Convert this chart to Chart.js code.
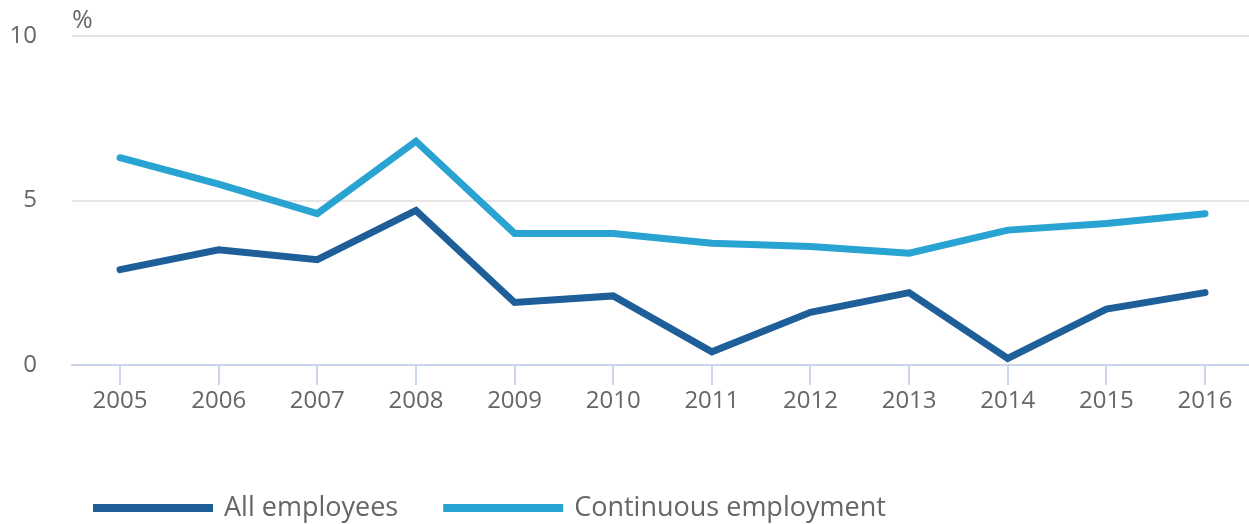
<!DOCTYPE html>
<html>
<head>
<meta charset="utf-8">
<script src="https://cdn.jsdelivr.net/npm/chart.js@4.4.1/dist/chart.umd.min.js"></script>
<style>
  html, body { margin: 0; padding: 0; background: #fff; }
  #wrap { width: 1249px; height: 524px; position: relative; }
</style>
</head>
<body>
<div id="wrap"><canvas id="chart"></canvas></div>
<script>
const years = [2005, 2006, 2007, 2008, 2009, 2010, 2011, 2012, 2013, 2014, 2015, 2016];
const allEmployees = [2.9, 3.5, 3.2, 4.7, 1.9, 2.1, 0.4, 1.6, 2.2, 0.2, 1.7, 2.2];
const continuousEmployment = [6.3, 5.5, 4.6, 6.8, 4.0, 4.0, 3.7, 3.6, 3.4, 4.1, 4.3, 4.6];
const yTicks = [0, 5, 10];
const seriesNames = ['All employees', 'Continuous employment'];
const seriesColors = ['#1f5f99', '#29a3d1'];

const FONT = "'Open Sans', sans-serif";
const TEXT = '#666666';

function toPoints(values) {
  return years.map((y, i) => ({ x: y, y: values[i] }));
}

// unit label above the value axis
const unitLabel = {
  id: 'unitLabel',
  afterDraw(chart) {
    const ctx = chart.ctx;
    ctx.save();
    ctx.font = '25px ' + FONT;
    ctx.fillStyle = TEXT;
    ctx.textAlign = 'left';
    ctx.textBaseline = 'alphabetic';
    ctx.fillText('%', chart.chartArea.left, chart.chartArea.top - 8);
    ctx.restore();
  }
};

// legend along the bottom, long line swatches
const lineLegend = {
  id: 'lineLegend',
  afterDraw(chart) {
    const ctx = chart.ctx;
    let x = 93;
    const y = 508;
    ctx.save();
    ctx.font = '27px ' + FONT;
    ctx.textBaseline = 'middle';
    chart.data.datasets.forEach(ds => {
      ctx.fillStyle = ds.borderColor;
      ctx.fillRect(x, y - 4, 120, 8);
      x += 120 + 11;
      ctx.fillStyle = TEXT;
      ctx.fillText(ds.label, x, y);
      x += ctx.measureText(ds.label).width + 45;
    });
    ctx.restore();
  }
};

new Chart(document.getElementById('chart'), {
  type: 'line',
  data: {
    datasets: [
      { label: seriesNames[0], data: toPoints(allEmployees), borderColor: seriesColors[0] },
      { label: seriesNames[1], data: toPoints(continuousEmployment), borderColor: seriesColors[1] }
    ]
  },
  options: {
    responsive: true,
    maintainAspectRatio: false,
    animation: false,
    layout: { padding: { top: 36, right: 0, bottom: 0, left: 0 } },
    elements: {
      point: { radius: 0 },
      line: { borderWidth: 7, borderCapStyle: 'round', borderJoinStyle: 'miter', tension: 0 }
    },
    plugins: {
      legend: { display: false },
      tooltip: { enabled: false }
    },
    scales: {
      x: {
        type: 'linear',
        min: 2004.513,
        max: 2016.446,
        afterBuildTicks: scale => { scale.ticks = years.map(v => ({ value: v })); },
        afterFit: scale => {
          scale.height = 159;
          scale.paddingLeft = 0;
          scale.paddingRight = 0;
        },
        border: { display: true, color: '#ccd6eb', width: 2 },
        grid: { drawOnChartArea: false, drawTicks: true, tickLength: 20, color: '#ccd6eb', lineWidth: 2 },
        ticks: {
          padding: 2,
          color: TEXT,
          font: { family: FONT, size: 24 },
          maxRotation: 0,
          callback: v => String(v)
        }
      },
      y: {
        min: 0,
        max: 10,
        afterBuildTicks: scale => { scale.ticks = yTicks.map(v => ({ value: v })); },
        afterFit: scale => {
          scale.width = 72;
          scale.paddingTop = 0;
          scale.paddingBottom = 0;
        },
        border: { display: false },
        grid: {
          drawTicks: false,
          tickLength: 0,
          lineWidth: 2,
          color: ctx => ctx.tick && ctx.tick.value === 0 ? 'rgba(0,0,0,0)' : '#e6e6e6'
        },
        ticks: {
          padding: 35,
          color: TEXT,
          font: { family: FONT, size: 24 }
        }
      }
    }
  },
  plugins: [unitLabel, lineLegend]
});
</script>
</body>
</html>
